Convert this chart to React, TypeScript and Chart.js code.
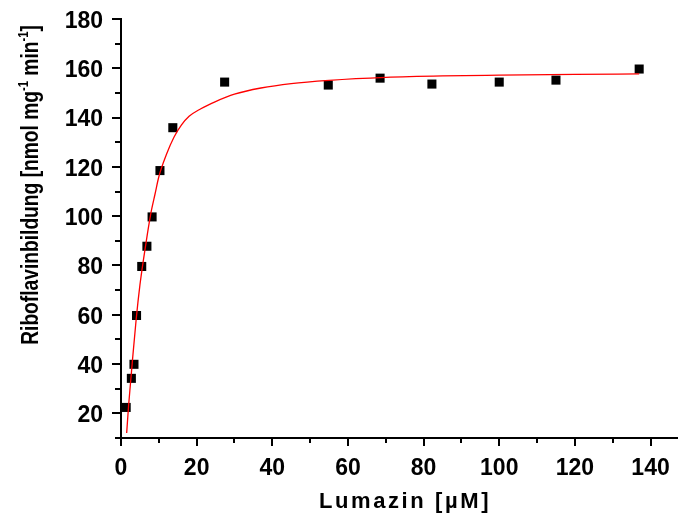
import { useEffect, useRef } from "react";
import { Chart, registerables } from "chart.js";

Chart.register(...registerables);

// Measured data (Lumazin concentration in µM, Riboflavin formation rate)
const lumazinConc = [1.37, 2.74, 3.43, 4.11, 5.48, 6.85, 8.22, 10.3, 13.7, 27.4, 54.8, 68.5, 82.2, 100, 115, 137];
const riboflavinRate = [22.4, 34.2, 39.9, 59.7, 79.6, 87.8, 99.7, 118.5, 135.9, 154.4, 153.2, 156.0, 153.6, 154.4, 155.2, 159.7];

// Fitted curve
const fitConc = [1.5, 2, 2.5, 3, 4, 5, 6, 7, 8, 9, 10, 12, 14, 16, 18, 21, 25, 30, 37, 45, 55, 70, 85, 100, 120, 137];
const fitRate = [12, 23, 32, 41, 58, 72, 83, 93, 102, 109, 116, 125, 132, 137, 140.5, 143.5, 146.5, 149.5, 152, 153.8, 155.1, 156.3, 156.9, 157.2, 157.5, 157.7];

const X_MIN = 0;
const X_MAX = 147;
const Y_MIN = 10;
const Y_MAX = 180;

const xTitle = "Lumazin [µM]";
const yTitleParts = [
  { text: "Riboflavinbildung [nmol mg", sup: false },
  { text: "-1", sup: true },
  { text: " min", sup: false },
  { text: "-1", sup: true },
  { text: "]", sup: false },
];

const FONT = '"Liberation Sans", Arial, sans-serif';

const axisDecor = {
  id: "axisDecor",
  afterDraw(chart: any) {
    const ctx = chart.ctx as CanvasRenderingContext2D;
    const xs = chart.scales.x;
    const ys = chart.scales.y;
    const area = chart.chartArea;
    ctx.save();
    ctx.strokeStyle = "#000";
    ctx.lineWidth = 2;
    xs.ticks.forEach((t: any) => {
      const px = Math.round(xs.getPixelForValue(t.value));
      const len = t.value % 20 === 0 ? 8 : 5;
      ctx.beginPath();
      ctx.moveTo(px, area.bottom);
      ctx.lineTo(px, area.bottom + len);
      ctx.stroke();
    });
    ys.ticks.forEach((t: any) => {
      const py = Math.round(ys.getPixelForValue(t.value));
      const len = t.value % 20 === 0 ? 9 : 6;
      ctx.beginPath();
      ctx.moveTo(area.left, py);
      ctx.lineTo(area.left - len, py);
      ctx.stroke();
    });

    // X title
    ctx.fillStyle = "#000";
    ctx.font = `bold 22px ${FONT}`;
    (ctx as any).letterSpacing = "2.6px";
    const w = ctx.measureText(xTitle).width;
    ctx.textAlign = "left";
    ctx.textBaseline = "alphabetic";
    ctx.fillText(xTitle, 405 - w / 2, 508);
    (ctx as any).letterSpacing = "0px";

    // Y title (rotated, with superscripts)
    const mainFont = `bold 24px ${FONT}`;
    const supFont = `bold 14px ${FONT}`;
    let total = 0;
    const widths = yTitleParts.map((p) => {
      ctx.font = p.sup ? supFont : mainFont;
      const ww = ctx.measureText(p.text).width;
      total += ww;
      return ww;
    });
    ctx.translate(38, 185);
    ctx.rotate(-Math.PI / 2);
    ctx.scale(0.8, 1);
    let cx = -total / 2;
    yTitleParts.forEach((p, i) => {
      ctx.font = p.sup ? supFont : mainFont;
      ctx.fillText(p.text, cx, p.sup ? -10 : 0);
      cx += widths[i];
    });
    ctx.restore();
  },
};

export default function App() {
  const canvasRef = useRef<HTMLCanvasElement | null>(null);

  useEffect(() => {
    if (!canvasRef.current) return;
    const chart = new Chart(canvasRef.current, {
      type: "scatter",
      data: {
        datasets: [
          {
            label: "Fit",
            data: fitConc.map((x, i) => ({ x, y: fitRate[i] })),
            showLine: true,
            borderColor: "#ff0000",
            borderWidth: 1.3,
            pointRadius: 0,
            cubicInterpolationMode: "monotone",
            fill: false,
          },
          {
            label: "Messwerte",
            data: lumazinConc.map((x, i) => ({ x, y: riboflavinRate[i] })),
            pointStyle: "rect",
            pointRadius: 6.4,
            pointBorderWidth: 0,
            backgroundColor: "#000",
            borderColor: "#000",
            showLine: false,
          },
        ],
      },
      options: {
        animation: false,
        responsive: false,
        layout: { autoPadding: false, padding: { top: 19, right: 2, left: 0, bottom: 0 } },
        plugins: {
          legend: { display: false },
          tooltip: { enabled: false },
        },
        scales: {
          x: {
            type: "linear",
            min: X_MIN,
            max: X_MAX,
            grid: { display: false, drawTicks: false, tickLength: 0 },
            border: { display: true, color: "#000", width: 2 },
            afterBuildTicks: (scale: any) => {
              scale.ticks = scale.ticks.filter((t: any) => t.value % 10 === 0);
            },
            afterFit: (scale: any) => {
              scale.height = 78;
              scale.paddingLeft = 0;
              scale.paddingRight = 0;
            },
            ticks: {
              stepSize: 10,
              includeBounds: false,
              autoSkip: false,
              maxRotation: 0,
              padding: 17,
              color: "#000",
              font: { family: FONT, size: 23, weight: "bold" },
              callback: (v: any) => (Number(v) % 20 === 0 ? String(v) : ""),
            },
          },
          y: {
            type: "linear",
            min: Y_MIN,
            max: Y_MAX,
            grid: { display: false, drawTicks: false, tickLength: 0 },
            border: { display: true, color: "#000", width: 2 },
            afterBuildTicks: (scale: any) => {
              scale.ticks = scale.ticks.filter((t: any) => t.value % 10 === 0);
            },
            afterFit: (scale: any) => {
              scale.width = 121;
              scale.paddingTop = 0;
              scale.paddingBottom = 0;
            },
            ticks: {
              stepSize: 10,
              includeBounds: false,
              autoSkip: false,
              padding: 18,
              labelOffset: 2.5,
              color: "#000",
              font: { family: FONT, size: 23, weight: "bold" },
              callback: (v: any) => (Number(v) % 20 === 0 ? String(v) : ""),
            },
          },
        },
      },
      plugins: [axisDecor],
    } as any);
    return () => chart.destroy();
  }, []);

  return (
    <div style={{ position: "absolute", left: 0, top: 0, width: 679, height: 516, background: "#fff" }}>
      <canvas ref={canvasRef} width={679} height={516} style={{ display: "block" }} />
    </div>
  );
}
